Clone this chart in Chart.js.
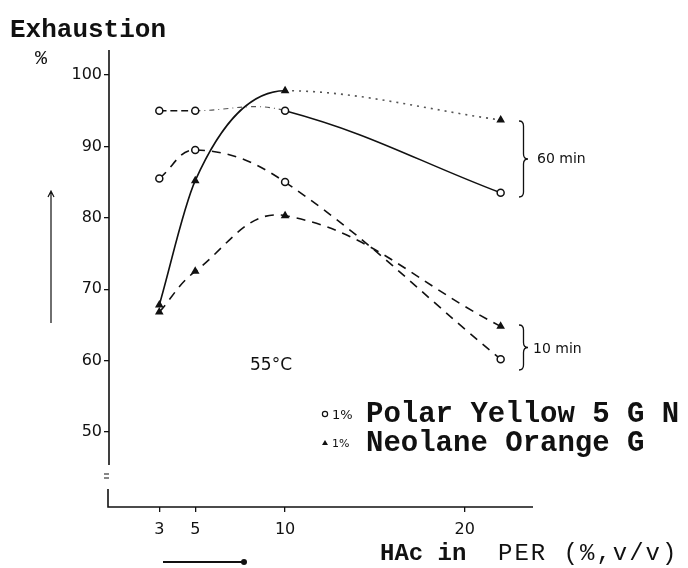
<!DOCTYPE html>
<html>
<head>
<meta charset="utf-8">
<script src="https://cdn.jsdelivr.net/npm/chart.js@4/dist/chart.umd.min.js"></script>
<style>
  html, body { margin: 0; padding: 0; background: #fff; }
  #wrap { width: 688px; height: 568px; }
</style>
</head>
<body>
<div id="wrap"><canvas id="exhChart" width="688" height="568"></canvas></div>
<script>
// HAc concentration in PER (%, v/v)
const hac = [3, 5, 10, 22];
const xTicks = [3, 5, 10, 20];
const yTicks = [50, 60, 70, 80, 90, 100];

// exhaustion %
const polar60 = [95, 95, 95, 83.5];
const polar10 = [85.5, 89.5, 85, 60.2];
const neolane60 = [67.8, 85.2, 97.8, 93.7];
const neolane10 = [66.8, 72.5, 80.3, 64.8];

const ink = "#111";

function pts(ys) {
  return hac.map((x, i) => ({ x: x, y: ys[i] }));
}

function brace(ctx, x, y1, y2, w) {
  const mid = (y1 + y2) / 2;
  const r = 5;
  const xm = x + w / 2;
  ctx.beginPath();
  ctx.moveTo(x, y1);
  ctx.quadraticCurveTo(xm, y1, xm, y1 + r);
  ctx.lineTo(xm, mid - r);
  ctx.quadraticCurveTo(xm, mid, x + w, mid);
  ctx.quadraticCurveTo(xm, mid, xm, mid + r);
  ctx.lineTo(xm, y2 - r);
  ctx.quadraticCurveTo(xm, y2, x, y2);
  ctx.stroke();
}

const decor = {
  id: "decor",
  afterDraw(chart) {
    const ctx = chart.ctx;
    const a = chart.chartArea;
    ctx.save();
    ctx.strokeStyle = ink;
    ctx.fillStyle = ink;
    ctx.lineWidth = 1.6;

    // y axis with a break near the bottom
    ctx.beginPath();
    ctx.moveTo(a.left, a.top);
    ctx.lineTo(a.left, a.bottom - 42);
    ctx.moveTo(a.left - 1, a.bottom - 18);
    ctx.lineTo(a.left - 1, a.bottom);
    ctx.lineTo(a.right, a.bottom);
    ctx.stroke();
    ctx.lineWidth = 1.2;
    ctx.beginPath();
    ctx.moveTo(a.left - 5, a.bottom - 33);
    ctx.lineTo(a.left, a.bottom - 33);
    ctx.moveTo(a.left - 5, a.bottom - 29);
    ctx.lineTo(a.left, a.bottom - 29);
    ctx.stroke();

    // arrows next to the axes
    ctx.lineWidth = 1.2;
    ctx.beginPath();
    ctx.moveTo(51, 192);
    ctx.lineTo(51, 323);
    ctx.moveTo(48, 197);
    ctx.lineTo(51, 191);
    ctx.lineTo(54, 197);
    ctx.stroke();
    ctx.lineWidth = 1.8;
    ctx.beginPath();
    ctx.moveTo(163, 562);
    ctx.lineTo(243, 562);
    ctx.stroke();
    ctx.beginPath();
    ctx.arc(244, 562, 3, 0, Math.PI * 2);
    ctx.fill();

    // braces
    ctx.lineWidth = 1.3;
    brace(ctx, 519, 121, 197, 9);
    brace(ctx, 519, 325, 370, 9);

    // texts
    ctx.textBaseline = "alphabetic";
    ctx.textAlign = "left";
    ctx.font = "bold 26px 'Liberation Mono'";
    ctx.fillText("Exhaustion", 10, 37);
    ctx.font = "20px 'Liberation Mono'";
    ctx.fillText("%", 35, 64);

    ctx.font = "14px 'DejaVu Sans'";
    ctx.fillText("60 min", 537, 163);
    ctx.fillText("10 min", 533, 353);
    ctx.font = "17px 'DejaVu Sans'";
    ctx.fillText("55°C", 250, 370);

    // legend
    ctx.lineWidth = 1.2;
    ctx.beginPath();
    ctx.arc(325, 414, 2.6, 0, Math.PI * 2);
    ctx.stroke();
    ctx.beginPath();
    ctx.moveTo(325, 440);
    ctx.lineTo(328, 445);
    ctx.lineTo(322, 445);
    ctx.closePath();
    ctx.fill();
    ctx.font = "13px 'DejaVu Sans'";
    ctx.fillText("1%", 332, 419);
    ctx.font = "11px 'DejaVu Sans'";
    ctx.fillText("1%", 332, 447);
    ctx.font = "bold 29px 'Liberation Mono'";
    ctx.fillText("Polar Yellow 5 G N", 366, 422);
    ctx.fillText("Neolane Orange G", 366, 451);

    // x axis title
    ctx.font = "bold 24px 'Liberation Mono'";
    ctx.fillText("HAc in", 380, 560);
    ctx.font = "24px 'Liberation Mono'";
    ctx.letterSpacing = "2px";
    ctx.fillText("PER (%,v/v)", 498, 560);
    ctx.restore();
  }
};

const lineBase = {
  borderColor: ink,
  borderWidth: 1.6,
  tension: 0.4,
  pointRadius: 3.5,
  pointBorderWidth: 1.5,
  pointBorderColor: ink,
  fill: false
};

const data = {
  datasets: [
    Object.assign({}, lineBase, {
      label: "Polar Yellow 5 G N, 60 min",
      data: pts(polar60),
      pointStyle: "circle",
      pointBackgroundColor: "#fff",
      segment: {
        borderDash: (c) => (c.p0DataIndex === 0 ? [7, 4] : c.p0DataIndex === 1 ? [5, 4, 1, 4] : undefined),
        borderColor: (c) => (c.p0DataIndex === 1 ? "#555" : ink),
        borderWidth: (c) => (c.p0DataIndex === 1 ? 1.1 : 1.6)
      }
    }),
    Object.assign({}, lineBase, {
      label: "Polar Yellow 5 G N, 10 min",
      data: pts(polar10),
      pointStyle: "circle",
      pointBackgroundColor: "#fff",
      borderDash: [9, 7]
    }),
    Object.assign({}, lineBase, {
      label: "Neolane Orange G, 60 min",
      data: pts(neolane60),
      pointStyle: "triangle",
      pointBackgroundColor: ink,
      cubicInterpolationMode: "monotone",
      segment: {
        borderDash: (c) => (c.p0DataIndex === 2 ? [2, 5] : undefined),
        borderColor: (c) => (c.p0DataIndex === 2 ? "#555" : ink)
      }
    }),
    Object.assign({}, lineBase, {
      label: "Neolane Orange G, 10 min",
      data: pts(neolane10),
      pointStyle: "triangle",
      pointBackgroundColor: ink,
      borderDash: [9, 7]
    })
  ]
};

const config = {
  type: "line",
  data: data,
  options: {
    responsive: false,
    animation: false,
    layout: { padding: { top: 50, right: 155, left: 0, bottom: 0 } },
    plugins: {
      legend: { display: false },
      tooltip: { enabled: false }
    },
    scales: {
      x: {
        type: "linear",
        min: 0.2,
        max: 23.8,
        afterBuildTicks: (s) => { s.ticks = xTicks.map((v) => ({ value: v })); },
        afterFit: (s) => { s.height = 61; },
        border: { display: false },
        grid: { drawOnChartArea: false, drawTicks: true, tickLength: 5, color: ink, lineWidth: 1.3 },
        ticks: { color: ink, font: { family: "DejaVu Sans", size: 16 }, padding: 8, maxRotation: 0 }
      },
      y: {
        min: 39.5,
        max: 103.5,
        afterBuildTicks: (s) => { s.ticks = yTicks.map((v) => ({ value: v })); },
        afterFit: (s) => { s.width = 109; },
        border: { display: false },
        grid: { drawOnChartArea: false, drawTicks: true, tickLength: 5, color: ink, lineWidth: 1.3 },
        ticks: { color: ink, font: { family: "DejaVu Sans", size: 16 }, padding: 2 }
      }
    }
  },
  plugins: [decor]
};

const exhChart = new Chart(document.getElementById("exhChart"), config);
</script>
</body>
</html>
